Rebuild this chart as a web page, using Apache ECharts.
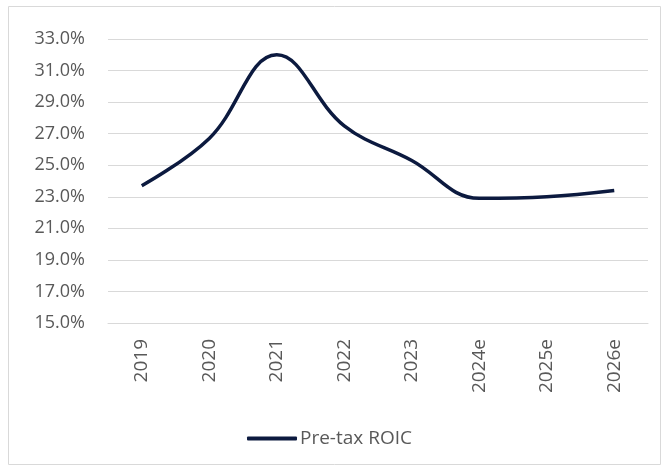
<!DOCTYPE html>
<html>
<head>
<meta charset="utf-8">
<script src="https://cdn.jsdelivr.net/npm/echarts@6/dist/echarts.min.js"></script>
<style>
html,body{margin:0;padding:0;background:#fff;}
#chart{width:670px;height:470px;}
</style>
</head>
<body>
<div id="chart"></div>
<script>
var years = ['2019','2020','2021','2022','2023','2024e','2025e','2026e'];
var roic = [23.7, 26.7, 32.0, 27.5, 25.3, 22.9, 23.0, 23.4];
var seriesName = 'Pre-tax ROIC';

var chart = echarts.init(document.getElementById('chart'));
var option = {
	animation: false,
	graphic: [{
		type: 'rect',
		shape: {x: 8.5, y: 6.5, width: 652, height: 458},
		style: {fill: 'none', stroke: '#d9d9d9', lineWidth: 1},
		silent: true
	}],
	grid: {left: 108, right: 22, top: 39, bottom: 147},
	legend: {
		top: 429,
		left: 247,
		padding: 0,
		itemWidth: 50,
		itemHeight: 4,
		itemGap: 3,
		icon: 'roundRect',
		textStyle: {fontFamily: 'Open Sans', fontSize: 19, color: '#595959', padding: [0,0,0,-2]},
		data: [{name: seriesName, itemStyle: {color: '#0c1a3f'}}]
	},
	xAxis: {
		type: 'category',
		data: years,
		boundaryGap: true,
		axisLine: {lineStyle: {color: '#d9d9d9', width: 1}},
		axisTick: {show: false},
		axisLabel: {rotate: 90, margin: 16, fontFamily: 'Open Sans', fontSize: 19, color: '#595959'}
	},
	yAxis: {
		type: 'value',
		min: 15,
		max: 33,
		interval: 2,
		axisLine: {show: false},
		axisTick: {show: false},
		splitLine: {lineStyle: {color: '#d9d9d9', width: 1}},
		axisLabel: {
			margin: 23,
			fontFamily: 'Open Sans', fontSize: 18, color: '#595959',
			formatter: function(v){ return v.toFixed(1) + '%'; }
		}
	},
	series: [{
		name: seriesName,
		type: 'line',
		data: roic,
		smooth: 0.4,
		symbol: 'none',
		lineStyle: {color: '#0c1a3f', width: 3.5}
	}]
};
chart.setOption(option);
</script>
</body>
</html>
